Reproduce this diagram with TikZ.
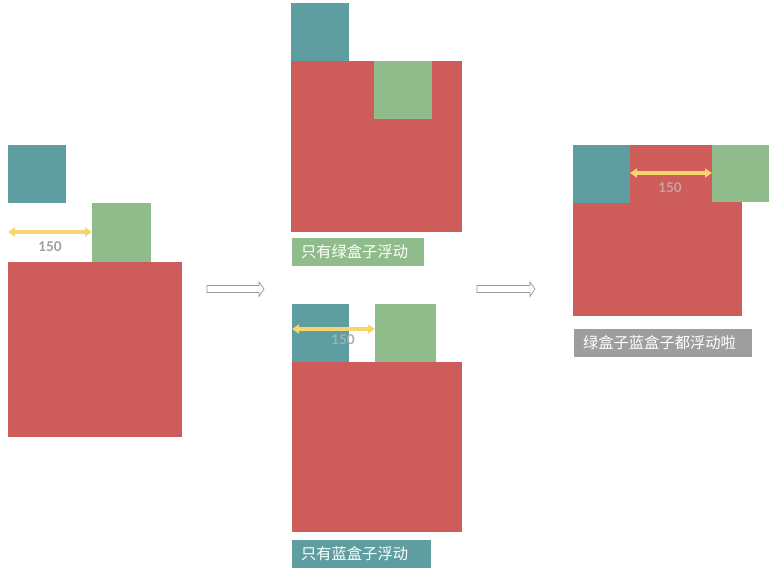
\documentclass[tikz,border=0pt]{standalone}
\usepackage{fontspec}
\setmainfont{Lato}
\newfontfamily\cjk{Noto Sans CJK SC}
\usetikzlibrary{arrows.meta}
\definecolor{tealc}{HTML}{5F9EA0}
\definecolor{greenc}{HTML}{8FBC8A}
\definecolor{redc}{HTML}{CD5C5A}
\definecolor{yellowc}{HTML}{F7D56E}
\definecolor{grayc}{HTML}{9E9E9E}
\definecolor{numc}{HTML}{9C9C9C}
\definecolor{numonred}{HTML}{C9A2A2}
\definecolor{numonteal}{HTML}{9DB4B5}
\begin{document}
\begin{tikzpicture}[x=1pt,y=-1pt,
  box/.style={inner sep=0pt,outer sep=0pt,anchor=north west},
  teal/.style={box,fill=tealc,minimum width=#1,minimum height=58},
  grn/.style={box,fill=greenc,minimum width=#1,minimum height=58},
  redbox/.style={box,fill=redc,minimum width=#1,minimum height=#1},
  dim/.style={draw=yellowc,line width=3.4pt,{Triangle[length=7pt,width=9pt]}-{Triangle[length=7pt,width=9pt]}},
  num/.style={text=numc,font=\bfseries\fontsize{13.5}{13.5}\selectfont,inner sep=0pt},
  lbl/.style={box,text=white,font=\cjk\fontsize{15.3}{15.3}\selectfont,inner xsep=0pt,inner ysep=0pt,minimum height=28,align=left},
  hollow/.style={draw=gray!80,line width=0.7pt,fill=white}
]
\useasboundingbox (0,0) rectangle (776,568);
% ---- left group
\node[redbox=174,minimum height=175] (r1) at (8,262) {};
\node[teal=58] (t1) at (8,145) {};
\node[grn=59,minimum height=59] (g1) at (92,203) {};
\coordinate (a1s) at (8,232);
\coordinate (a1e) at (92,232);
\draw[dim] (a1s) -- (a1e);
\node[num] (n1) at (50,247) {150};
% ---- arrow 1
\draw[hollow] (207,285.5) -- (259,285.5) -- (259,282) -- (264,289) -- (259,296.5) -- (259,292.5) -- (207,292.5) -- cycle;
% ---- middle top
\node[redbox=171] (r2) at (291,61) {};
\node[teal=58] (t2) at (291,3) {};
\node[grn=58] (g2) at (374,61) {};
\node[lbl,fill=greenc,text width=132] (l2) at (292,238) {\hspace*{9pt}只有绿盒子浮动};
% ---- middle bottom
\node[redbox=170] (r3) at (292,362) {};
\node[teal=57] (t3) at (292,304) {};
\node[grn=61] (g3) at (375,304) {};
\coordinate (a3s) at (292,329);
\coordinate (a3e) at (375,329);
\draw[dim] (a3s) -- (a3e);
\node[num,text=numonteal] (n3) at (343,340) {150};
\node[lbl,fill=tealc,text width=139] (l3) at (292,540) {\hspace*{9pt}只有蓝盒子浮动};
% ---- arrow 2
\draw[hollow] (477,285.5) -- (530,285.5) -- (530,282) -- (535,289) -- (530,296.5) -- (530,292.5) -- (477,292.5) -- cycle;
% ---- right
\node[redbox=169,minimum height=171] (r4) at (573,145) {};
\node[teal=57] (t4) at (573,145) {};
\node[grn=57,minimum height=57] (g4) at (712,145) {};
\coordinate (a4s) at (630,173);
\coordinate (a4e) at (712,173);
\draw[dim] (a4s) -- (a4e);
\node[num,text=numonred] (n4) at (670,188) {150};
\node[lbl,fill=grayc,text width=178] (l4) at (574,329) {\hspace*{9pt}绿盒子蓝盒子都浮动啦};
\end{tikzpicture}
\end{document}
